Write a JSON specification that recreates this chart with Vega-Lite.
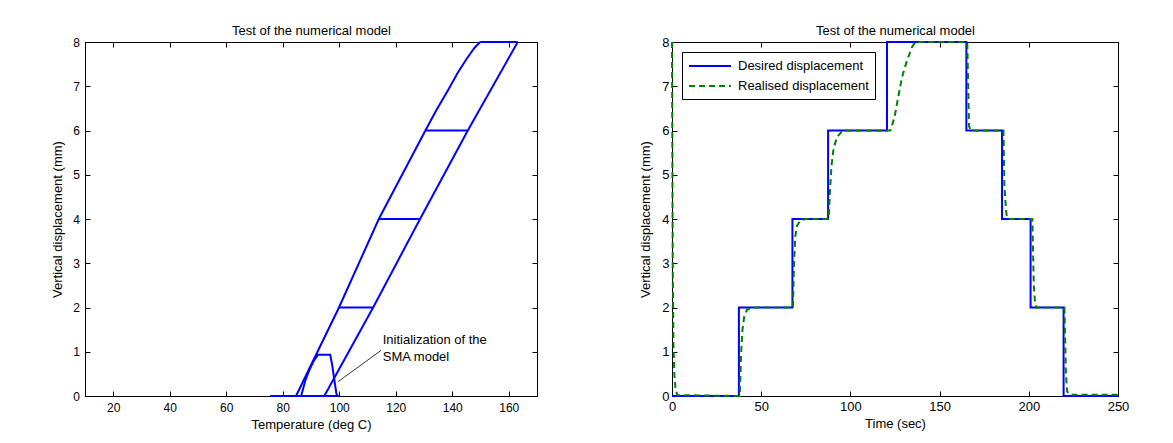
{
  "$schema": "https://vega.github.io/schema/vega-lite/v6.json",
  "background": "white",
  "padding": {"left": 50, "top": 24, "right": 0, "bottom": 0},
  "spacing": 100,
  "resolve": {"scale": {"color": "independent", "strokeDash": "independent"}, "legend": {"color": "independent", "strokeDash": "independent"}},
  "config": {
    "view": {"stroke": "black", "strokeWidth": 1},
    "font": "Liberation Sans",
    "axis": {"grid": false, "domainColor": "black", "tickColor": "black", "labelColor": "black", "titleColor": "black", "tickSize": -5, "domainWidth": 1, "tickWidth": 1, "titleFontWeight": "normal", "minExtent": 0, "labelFont": "Liberation Sans", "titleFont": "Liberation Sans", "titleFontSize": 13, "labelFlush": false}
  },
  "datasets": {
    "loops": [
      {"seg": "base", "ord": 1, "temp": 75.5, "disp": 0},
      {"seg": "base", "ord": 2, "temp": 100, "disp": 0},
      {"seg": "inner", "ord": 1, "temp": 86.5, "disp": 0},
      {"seg": "inner", "ord": 2, "temp": 88, "disp": 0.35},
      {"seg": "inner", "ord": 3, "temp": 89.5, "disp": 0.6},
      {"seg": "inner", "ord": 4, "temp": 91, "disp": 0.8},
      {"seg": "inner", "ord": 5, "temp": 92.5, "disp": 0.93},
      {"seg": "inner", "ord": 6, "temp": 96.8, "disp": 0.93},
      {"seg": "inner", "ord": 7, "temp": 97.5, "disp": 0.7},
      {"seg": "inner", "ord": 8, "temp": 98.3, "disp": 0.35},
      {"seg": "inner", "ord": 9, "temp": 99, "disp": 0.05},
      {"seg": "inner", "ord": 10, "temp": 99.5, "disp": 0},
      {"seg": "left", "ord": 1, "temp": 84.7, "disp": 0},
      {"seg": "left", "ord": 2, "temp": 99.9, "disp": 2},
      {"seg": "left", "ord": 3, "temp": 114, "disp": 4},
      {"seg": "left", "ord": 4, "temp": 130.5, "disp": 6},
      {"seg": "left", "ord": 5, "temp": 134.3, "disp": 6.45},
      {"seg": "left", "ord": 6, "temp": 138.4, "disp": 6.9},
      {"seg": "left", "ord": 7, "temp": 142, "disp": 7.31},
      {"seg": "left", "ord": 8, "temp": 145, "disp": 7.61},
      {"seg": "left", "ord": 9, "temp": 147.9, "disp": 7.87},
      {"seg": "left", "ord": 10, "temp": 149.9, "disp": 8},
      {"seg": "right", "ord": 1, "temp": 94.7, "disp": 0},
      {"seg": "right", "ord": 2, "temp": 112, "disp": 2},
      {"seg": "right", "ord": 3, "temp": 128.6, "disp": 4},
      {"seg": "right", "ord": 4, "temp": 145.5, "disp": 6},
      {"seg": "right", "ord": 5, "temp": 163.2, "disp": 8},
      {"seg": "h2", "ord": 1, "temp": 99.9, "disp": 2},
      {"seg": "h2", "ord": 2, "temp": 112, "disp": 2},
      {"seg": "h4", "ord": 1, "temp": 114, "disp": 4},
      {"seg": "h4", "ord": 2, "temp": 128.6, "disp": 4},
      {"seg": "h6", "ord": 1, "temp": 130.5, "disp": 6},
      {"seg": "h6", "ord": 2, "temp": 145.5, "disp": 6},
      {"seg": "h8", "ord": 1, "temp": 149.9, "disp": 8},
      {"seg": "h8", "ord": 2, "temp": 163.2, "disp": 8}
    ],
    "pointer": [
      {"temp": 114.8, "disp": 1.03, "temp2": 99.5, "disp2": 0.32}
    ],
    "notes": [
      {"label": "Initialization of the", "temp": 115.4, "disp": 1.256},
      {"label": "SMA model", "temp": 115.4, "disp": 0.881}
    ],
    "desired": [
      {"series": "Desired displacement", "ord": 1, "t": 0, "d": 0},
      {"series": "Desired displacement", "ord": 2, "t": 37.5, "d": 0},
      {"series": "Desired displacement", "ord": 3, "t": 37.5, "d": 2},
      {"series": "Desired displacement", "ord": 4, "t": 67.5, "d": 2},
      {"series": "Desired displacement", "ord": 5, "t": 67.5, "d": 4},
      {"series": "Desired displacement", "ord": 6, "t": 87.5, "d": 4},
      {"series": "Desired displacement", "ord": 7, "t": 87.5, "d": 6},
      {"series": "Desired displacement", "ord": 8, "t": 120.5, "d": 6},
      {"series": "Desired displacement", "ord": 9, "t": 120.5, "d": 8},
      {"series": "Desired displacement", "ord": 10, "t": 165, "d": 8},
      {"series": "Desired displacement", "ord": 11, "t": 165, "d": 6},
      {"series": "Desired displacement", "ord": 12, "t": 185, "d": 6},
      {"series": "Desired displacement", "ord": 13, "t": 185, "d": 4},
      {"series": "Desired displacement", "ord": 14, "t": 201, "d": 4},
      {"series": "Desired displacement", "ord": 15, "t": 201, "d": 2},
      {"series": "Desired displacement", "ord": 16, "t": 219.5, "d": 2},
      {"series": "Desired displacement", "ord": 17, "t": 219.5, "d": 0},
      {"series": "Desired displacement", "ord": 18, "t": 250, "d": 0}
    ],
    "realised": [
      {"series": "Realised displacement", "ord": 1, "t": 0, "d": 8},
      {"series": "Realised displacement", "ord": 2, "t": 0.4, "d": 3},
      {"series": "Realised displacement", "ord": 3, "t": 0.8, "d": 1.2},
      {"series": "Realised displacement", "ord": 4, "t": 1.3, "d": 0.5},
      {"series": "Realised displacement", "ord": 5, "t": 2, "d": 0.15},
      {"series": "Realised displacement", "ord": 6, "t": 3, "d": 0.02},
      {"series": "Realised displacement", "ord": 7, "t": 38, "d": 0},
      {"series": "Realised displacement", "ord": 8, "t": 38.8, "d": 1.0},
      {"series": "Realised displacement", "ord": 9, "t": 39.5, "d": 1.5},
      {"series": "Realised displacement", "ord": 10, "t": 40.5, "d": 1.8},
      {"series": "Realised displacement", "ord": 11, "t": 42, "d": 1.95},
      {"series": "Realised displacement", "ord": 12, "t": 45, "d": 2},
      {"series": "Realised displacement", "ord": 13, "t": 67.8, "d": 2},
      {"series": "Realised displacement", "ord": 14, "t": 68.4, "d": 3.0},
      {"series": "Realised displacement", "ord": 15, "t": 69.1, "d": 3.6},
      {"series": "Realised displacement", "ord": 16, "t": 70.1, "d": 3.85},
      {"series": "Realised displacement", "ord": 17, "t": 72, "d": 3.97},
      {"series": "Realised displacement", "ord": 18, "t": 75, "d": 4},
      {"series": "Realised displacement", "ord": 19, "t": 87.8, "d": 4},
      {"series": "Realised displacement", "ord": 20, "t": 88.5, "d": 4.6},
      {"series": "Realised displacement", "ord": 21, "t": 89.4, "d": 5.2},
      {"series": "Realised displacement", "ord": 22, "t": 90.6, "d": 5.6},
      {"series": "Realised displacement", "ord": 23, "t": 92.5, "d": 5.85},
      {"series": "Realised displacement", "ord": 24, "t": 95, "d": 5.97},
      {"series": "Realised displacement", "ord": 25, "t": 98, "d": 6},
      {"series": "Realised displacement", "ord": 26, "t": 122.4, "d": 6},
      {"series": "Realised displacement", "ord": 27, "t": 124, "d": 6.2},
      {"series": "Realised displacement", "ord": 28, "t": 125.2, "d": 6.4},
      {"series": "Realised displacement", "ord": 29, "t": 127.1, "d": 6.82},
      {"series": "Realised displacement", "ord": 30, "t": 128.9, "d": 7.2},
      {"series": "Realised displacement", "ord": 31, "t": 131.7, "d": 7.58},
      {"series": "Realised displacement", "ord": 32, "t": 134.5, "d": 7.88},
      {"series": "Realised displacement", "ord": 33, "t": 136.4, "d": 8},
      {"series": "Realised displacement", "ord": 34, "t": 165.5, "d": 8},
      {"series": "Realised displacement", "ord": 35, "t": 166.5, "d": 6.1},
      {"series": "Realised displacement", "ord": 36, "t": 167.5, "d": 6},
      {"series": "Realised displacement", "ord": 37, "t": 185.8, "d": 6},
      {"series": "Realised displacement", "ord": 38, "t": 186.3, "d": 4.78},
      {"series": "Realised displacement", "ord": 39, "t": 186.9, "d": 4.4},
      {"series": "Realised displacement", "ord": 40, "t": 187.5, "d": 4.1},
      {"series": "Realised displacement", "ord": 41, "t": 188.5, "d": 4},
      {"series": "Realised displacement", "ord": 42, "t": 202, "d": 4},
      {"series": "Realised displacement", "ord": 43, "t": 202.8, "d": 2.5},
      {"series": "Realised displacement", "ord": 44, "t": 203.5, "d": 2.1},
      {"series": "Realised displacement", "ord": 45, "t": 204.5, "d": 2},
      {"series": "Realised displacement", "ord": 46, "t": 220, "d": 2},
      {"series": "Realised displacement", "ord": 47, "t": 220.8, "d": 0.5},
      {"series": "Realised displacement", "ord": 48, "t": 221.5, "d": 0.1},
      {"series": "Realised displacement", "ord": 49, "t": 223, "d": 0.03},
      {"series": "Realised displacement", "ord": 50, "t": 250, "d": 0.03}
    ]
  },
  "hconcat": [
    {
      "width": 452,
      "height": 354,
      "layer": [
        {
          "data": {"name": "loops"},
          "mark": {"type": "line", "color": "#0000ff", "strokeWidth": 2},
          "encoding": {
            "x": {"field": "temp", "type": "quantitative", "scale": {"domain": [10, 170], "nice": false, "zero": false},
                  "axis": {"values": [20, 40, 60, 80, 100, 120, 140, 160], "title": "Temperature (deg C)", "labelFontSize": 12, "labelPadding": 11, "titlePadding": 5}},
            "y": {"field": "disp", "type": "quantitative", "scale": {"domain": [0, 8], "nice": false},
                  "axis": {"values": [0, 1, 2, 3, 4, 5, 6, 7, 8], "title": "Vertical displacement (mm)", "labelFontSize": 12, "labelPadding": 10.5, "titlePadding": 8.5}},
            "detail": {"field": "seg", "type": "nominal"},
            "order": {"field": "ord", "type": "quantitative"}
          }
        },
        {
          "data": {"name": "pointer"},
          "mark": {"type": "rule", "color": "black", "strokeWidth": 0.8},
          "encoding": {
            "x": {"field": "temp", "type": "quantitative",
                  "axis": {"orient": "top", "values": [20, 40, 60, 80, 100, 120, 140, 160], "labels": false, "title": "Test of the numerical model", "titlePadding": 4}},
            "x2": {"field": "temp2"},
            "y": {"field": "disp", "type": "quantitative",
                  "axis": {"orient": "right", "values": [0, 1, 2, 3, 4, 5, 6, 7, 8], "labels": false, "title": null}},
            "y2": {"field": "disp2"}
          }
        },
        {
          "data": {"name": "notes"},
          "mark": {"type": "text", "align": "left", "baseline": "middle", "fontSize": 13, "color": "black", "font": "Liberation Sans"},
          "encoding": {
            "x": {"field": "temp", "type": "quantitative", "axis": null},
            "y": {"field": "disp", "type": "quantitative", "axis": null},
            "text": {"field": "label"}
          }
        }
      ],
      "resolve": {"axis": {"x": "independent", "y": "independent"}}
    },
    {
      "width": 446,
      "height": 354,
      "layer": [
        {
          "data": {"name": "desired"},
          "mark": {"type": "line", "strokeWidth": 2},
          "encoding": {
            "x": {"field": "t", "type": "quantitative", "scale": {"domain": [0, 250], "nice": false},
                  "axis": {"values": [0, 50, 100, 150, 200, 250], "title": "Time (sec)", "labelFontSize": 13, "labelPadding": 9, "titlePadding": 4}},
            "y": {"field": "d", "type": "quantitative", "scale": {"domain": [0, 8], "nice": false},
                  "axis": {"values": [0, 1, 2, 3, 4, 5, 6, 7, 8], "title": "Vertical displacement (mm)", "labelFontSize": 13, "labelPadding": 8, "titlePadding": 9.5}},
            "color": {"field": "series", "type": "nominal",
                      "scale": {"domain": ["Desired displacement", "Realised displacement"], "range": ["#0000ff", "#008000"]},
                      "legend": {"title": null, "orient": "top-left", "offset": 10, "strokeColor": "black", "fillColor": "white", "padding": 6, "rowPadding": 5, "symbolType": "M-1,0H5", "symbolSize": 196, "symbolStrokeWidth": 2, "symbolFillColor": "transparent", "labelFontSize": 13, "labelColor": "black", "labelFont": "Liberation Sans", "labelOffset": 34, "cornerRadius": 0}},
            "strokeDash": {"field": "series", "type": "nominal",
                           "scale": {"domain": ["Desired displacement", "Realised displacement"], "range": [[1, 0], [6, 4]]},
                           "legend": {"title": null, "orient": "top-left", "offset": 10, "strokeColor": "black", "fillColor": "white", "padding": 6, "rowPadding": 5, "symbolType": "M-1,0H5", "symbolSize": 196, "symbolStrokeWidth": 2, "symbolFillColor": "transparent", "labelFontSize": 13, "labelColor": "black", "labelFont": "Liberation Sans", "labelOffset": 34, "cornerRadius": 0}},
            "order": {"field": "ord", "type": "quantitative"}
          }
        },
        {
          "data": {"name": "realised"},
          "mark": {"type": "line", "strokeWidth": 2},
          "encoding": {
            "x": {"field": "t", "type": "quantitative",
                  "axis": {"orient": "top", "values": [0, 50, 100, 150, 200, 250], "labels": false, "title": "Test of the numerical model", "titlePadding": 4}},
            "y": {"field": "d", "type": "quantitative",
                  "axis": {"orient": "right", "values": [0, 1, 2, 3, 4, 5, 6, 7, 8], "labels": false, "title": null}},
            "color": {"field": "series", "type": "nominal"},
            "strokeDash": {"field": "series", "type": "nominal"},
            "order": {"field": "ord", "type": "quantitative"}
          }
        }
      ],
      "resolve": {"axis": {"x": "independent", "y": "independent"}}
    }
  ]
}
